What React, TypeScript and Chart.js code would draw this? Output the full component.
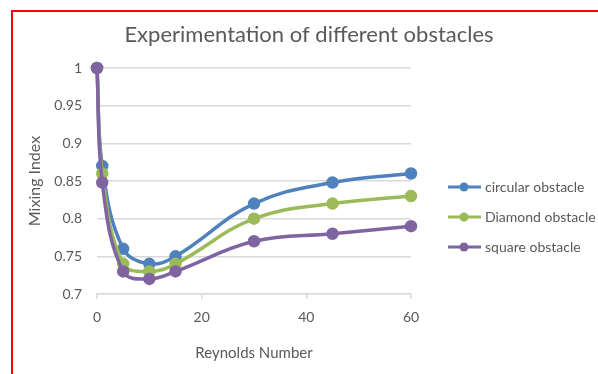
import { useEffect, useRef } from "react";
import { Chart, registerables } from "chart.js";

Chart.register(...registerables);

// Reynolds numbers sampled for each obstacle shape
const reynolds = [0, 1, 5, 10, 15, 30, 45, 60];
const circular = [1, 0.87, 0.76, 0.74, 0.75, 0.82, 0.848, 0.86];
const diamond = [1, 0.86, 0.74, 0.73, 0.74, 0.8, 0.82, 0.83];
const square = [1, 0.848, 0.73, 0.72, 0.73, 0.77, 0.78, 0.79];

const seriesNames = ["circular obstacle", "Diamond obstacle", "square obstacle"];
const seriesValues = [circular, diamond, square];
const seriesColors = ["#4F81BD", "#9BBB59", "#8064A2"];

const yTicks = [0.7, 0.75, 0.8, 0.85, 0.9, 0.95, 1];
const xTicks = [0, 20, 40, 60];

const chartTitle = "Experimentation of different obstacles";
const xTitle = "Reynolds Number";
const yTitle = "Mixing Index";

const FONT = "Lato, 'Open Sans', sans-serif";
const TEXT = "#595959";
const GRID = "#d9d9d9";

// Title and right-hand legend drawn straight onto the canvas
const decorations = {
  id: "decorations",
  afterDraw(chart: any) {
    const { ctx, chartArea } = chart;
    ctx.save();
    ctx.fillStyle = TEXT;
    ctx.font = `22px ${FONT}`;
    ctx.textAlign = "center";
    ctx.textBaseline = "middle";
    ctx.fillText(chartTitle, 309, 35);

    const lx = chartArea.right + 37;
    chart.data.datasets.forEach((ds: any, i: number) => {
      const y = 187 + i * 30;
      ctx.strokeStyle = ds.borderColor;
      ctx.lineWidth = 3;
      ctx.beginPath();
      ctx.moveTo(lx, y);
      ctx.lineTo(lx + 33, y);
      ctx.stroke();
      ctx.fillStyle = ds.borderColor;
      ctx.beginPath();
      ctx.arc(lx + 16, y, 4.5, 0, Math.PI * 2);
      ctx.fill();
      ctx.fillStyle = TEXT;
      ctx.font = `14px ${FONT}`;
      ctx.textAlign = "left";
      ctx.fillText(ds.label, lx + 37, y);
    });
    ctx.restore();
  },
};

export default function App() {
  const canvasRef = useRef<HTMLCanvasElement>(null);

  useEffect(() => {
    const canvas = canvasRef.current;
    if (!canvas) return;

    const chart = new Chart(canvas, {
      type: "scatter",
      data: {
        datasets: seriesValues.map((vals, i) => ({
          label: seriesNames[i],
          data: reynolds.map((x, j) => ({ x, y: vals[j] })),
          showLine: true,
          tension: 0.4,
          borderColor: seriesColors[i],
          backgroundColor: seriesColors[i],
          borderWidth: 3.5,
          pointRadius: 4.5,
          pointHoverRadius: 4.5,
          clip: false,
          // later series sit on top of earlier ones
          order: seriesValues.length - 1 - i,
        })),
      },
      options: {
        responsive: false,
        animation: false,
        events: [],
        layout: { padding: { left: 0, top: 68, right: 187, bottom: 0 } },
        plugins: {
          legend: { display: false },
          title: { display: false },
          tooltip: { enabled: false },
        },
        scales: {
          x: {
            type: "linear",
            min: 0,
            max: 60,
            afterFit: (s: any) => {
              s.height = 80;
            },
            afterBuildTicks: (s: any) => {
              s.ticks = xTicks.map((v) => ({ value: v }));
            },
            ticks: {
              color: TEXT,
              font: { family: FONT, size: 14 },
              padding: 10,
              callback: (v: any) => String(v),
            },
            grid: {
              drawOnChartArea: false,
              drawTicks: true,
              tickLength: 5,
              color: GRID,
              lineWidth: 1.5,
            },
            border: { display: true, color: GRID, width: 1.5 },
            title: {
              display: true,
              text: xTitle,
              color: TEXT,
              font: { family: FONT, size: 15 },
              padding: { top: 0, bottom: 12 },
            },
          },
          y: {
            type: "linear",
            min: 0.7,
            max: 1,
            afterFit: (s: any) => {
              s.width = 97;
            },
            afterBuildTicks: (s: any) => {
              s.ticks = yTicks.map((v) => ({ value: v }));
            },
            ticks: {
              color: TEXT,
              font: { family: FONT, size: 14 },
              padding: 15,
              callback: (v: any) => String(v),
            },
            grid: { color: GRID, lineWidth: 1.5, drawTicks: false },
            border: { display: false },
            title: {
              display: true,
              text: yTitle,
              color: TEXT,
              font: { family: FONT, size: 16 },
              padding: { top: 25, bottom: 0 },
            },
          },
        },
      },
      plugins: [decorations],
    });

    return () => chart.destroy();
  }, []);

  return (
    <div style={{ position: "absolute", left: 0, top: 0, width: 598, height: 374, background: "#fff" }}>
      <canvas ref={canvasRef} width={598} height={374} style={{ display: "block" }} />
      <div
        style={{
          position: "absolute",
          left: 11,
          top: 10,
          right: 0,
          bottom: 0,
          borderLeft: "2px solid #ff0000",
          borderTop: "2px solid #ff0000",
          pointerEvents: "none",
        }}
      />
    </div>
  );
}
